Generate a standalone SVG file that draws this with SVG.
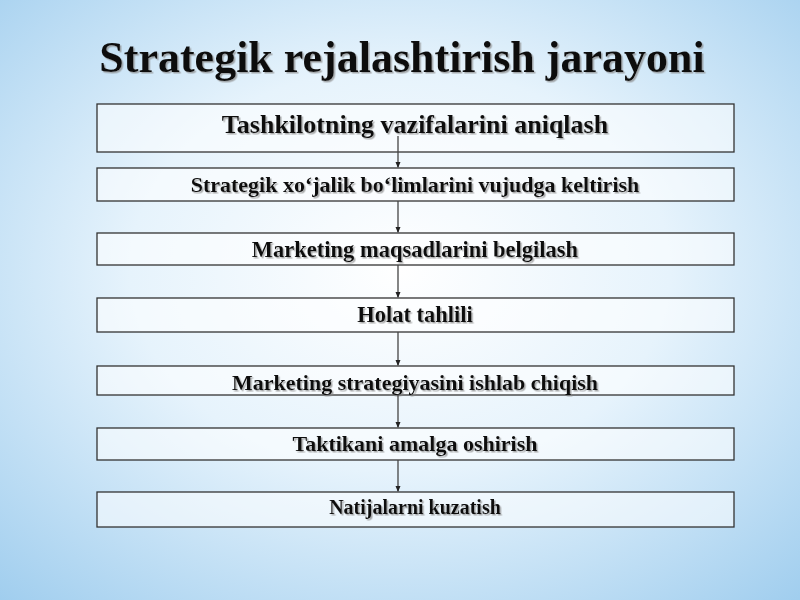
<svg xmlns="http://www.w3.org/2000/svg" width="800" height="600" viewBox="0 0 800 600">
<defs>
<radialGradient id="bg" cx="0.5" cy="0.45" r="0.75">
<stop offset="0" stop-color="#ffffff"/>
<stop offset="0.45" stop-color="#e6f3fc"/>
<stop offset="1" stop-color="#9fcdee"/>
</radialGradient>
<marker id="ah" markerWidth="6" markerHeight="6" refX="5" refY="3" orient="auto" markerUnits="userSpaceOnUse">
<path d="M0,0.5 L6,3 L0,5.5 Z" fill="#222"/>
</marker>
<filter id="sh" x="-5%" y="-20%" width="110%" height="140%">
<feDropShadow dx="1.5" dy="1.5" stdDeviation="0.6" flood-color="#888" flood-opacity="0.7"/>
</filter>
</defs>
<style>
.box{fill:#ffffff;fill-opacity:0.55;stroke:#333;stroke-width:1.3}
.t{font-family:"Liberation Serif","Times New Roman",serif;font-weight:bold;fill:#111;text-anchor:middle}
.c{stroke:#444;stroke-width:1.3;fill:none;marker-end:url(#ah)}
</style>
<rect width="800" height="600" fill="url(#bg)"/>
<text x="402" y="72" class="t" font-size="44" filter="url(#sh)">Strategik rejalashtirish jarayoni</text>
<g id="n1"><rect class="box" x="97" y="104" width="637" height="48"/><text class="t" x="415" y="133" font-size="26" filter="url(#sh)">Tashkilotning vazifalarini aniqlash</text></g>
<g id="n2"><rect class="box" x="97" y="168" width="637" height="33"/><text class="t" x="415" y="192" font-size="22" filter="url(#sh)">Strategik xo‘jalik bo‘limlarini vujudga keltirish</text></g>
<g id="n3"><rect class="box" x="97" y="233" width="637" height="32"/><text class="t" x="415" y="257" font-size="22.5" filter="url(#sh)">Marketing maqsadlarini  belgilash</text></g>
<g id="n4"><rect class="box" x="97" y="298" width="637" height="34"/><text class="t" x="415" y="322" font-size="22.5" filter="url(#sh)">Holat tahlili</text></g>
<g id="n5"><rect class="box" x="97" y="366" width="637" height="29"/><text class="t" x="415" y="390" font-size="22" filter="url(#sh)">Marketing strategiyasini ishlab chiqish</text></g>
<g id="n6"><rect class="box" x="97" y="428" width="637" height="32"/><text class="t" x="415" y="451" font-size="22" filter="url(#sh)">Taktikani amalga oshirish</text></g>
<g id="n7"><rect class="box" x="97" y="492" width="637" height="35"/><text class="t" x="415" y="514" font-size="20" filter="url(#sh)">Natijalarni kuzatish</text></g>
<g id="connectors">
<line class="c" x1="398" y1="136" x2="398" y2="167"/>
<line class="c" x1="398" y1="201" x2="398" y2="232"/>
<line class="c" x1="398" y1="265" x2="398" y2="297"/>
<line class="c" x1="398" y1="332" x2="398" y2="365"/>
<line class="c" x1="398" y1="395" x2="398" y2="427"/>
<line class="c" x1="398" y1="460" x2="398" y2="491"/>
</g>
</svg>
